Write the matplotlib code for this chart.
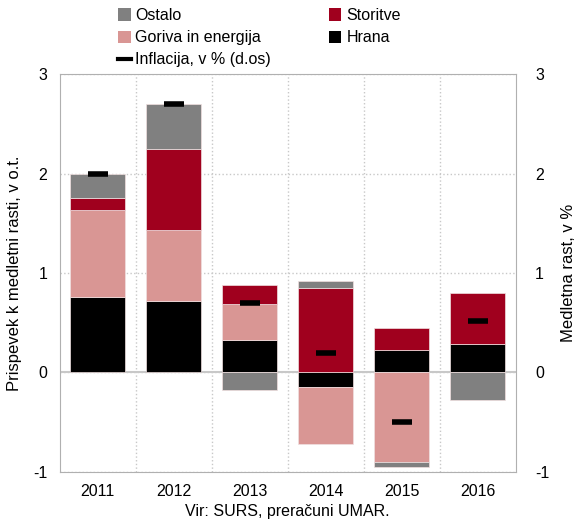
import numpy as np
import matplotlib
matplotlib.use("Agg")
import matplotlib.pyplot as plt
from matplotlib.lines import Line2D
from matplotlib.patches import Patch

plt.rcParams['font.family'] = ['Liberation Sans', 'DejaVu Sans']
plt.rcParams['axes.unicode_minus'] = False

years = ['2011', '2012', '2013', '2014', '2015', '2016']
hrana = [0.76, 0.72, 0.33, -0.15, 0.23, 0.29]
goriva = [0.87, 0.71, 0.36, -0.57, -0.90, 0.0]
storitve = [0.12, 0.82, 0.19, 0.85, 0.22, 0.51]
ostalo = [0.25, 0.45, -0.18, 0.07, -0.05, -0.28]
inflacija = [2.0, 2.7, 0.7, 0.2, -0.5, 0.52]

series = [
    ('Hrana', hrana, '#000000'),
    ('Goriva in energija', goriva, '#D99694'),
    ('Storitve', storitve, '#A0001E'),
    ('Ostalo', ostalo, '#808080'),
]

fig = plt.figure(figsize=(5.75, 5.22), dpi=100)
ax = fig.add_axes([0.104, 0.096, 0.793, 0.762])
x = np.arange(len(years))
pos = np.zeros(len(years))
neg = np.zeros(len(years))
for name, vals, col in series:
    v = np.array(vals)
    bottom = np.where(v >= 0, pos, neg)
    ax.bar(x, v, bottom=bottom, width=0.72, color=col, edgecolor='#f0e0e0',
           linewidth=0.5, zorder=3)
    pos = np.where(v >= 0, pos + v, pos)
    neg = np.where(v < 0, neg + v, neg)

ax.set_xlim(-0.5, len(years) - 0.5)
ax.set_ylim(-1, 3)
ax.set_yticks([-1, 0, 1, 2, 3])
ax.set_xticks(x)
ax.set_xticklabels(years)
ax.set_xticks(np.arange(0.5, len(years) - 0.5, 1), minor=True)
ax.grid(axis='y', which='major', linestyle=':', color='#c8c8c8', linewidth=1, zorder=0)
ax.grid(axis='x', which='minor', linestyle=':', color='#c8c8c8', linewidth=1, zorder=0)
ax.axhline(0, color='#c8c8c8', linewidth=1.5, zorder=2)
ax.tick_params(axis='both', which='both', length=0, labelsize=11.5, pad=9)
for s in ax.spines.values():
    s.set_color('#b0b0b0')
ax.set_ylabel('Prispevek k medletni rasti, v o.t.', fontsize=12, labelpad=8)
ax.set_xlabel('Vir: SURS, preračuni UMAR.', fontsize=11.5, labelpad=3)

ax2 = ax.twinx()
ax2.set_ylim(-1, 3)
ax2.set_yticks([-1, 0, 1, 2, 3])
ax2.tick_params(axis='y', length=0, labelsize=11.5, pad=14)
for s in ax2.spines.values():
    s.set_visible(False)
ax2.plot(x, inflacija, linestyle='none', marker='_', markersize=14,
         markeredgewidth=4, color='black', zorder=5)
ax2.set_ylabel('Medletna rast, v %', fontsize=12, labelpad=8, rotation=90)

handles = [
    Patch(facecolor='#808080', label='Ostalo'),
    Patch(facecolor='#D99694', label='Goriva in energija'),
    Line2D([], [], color='black', linewidth=3, label='Inflacija, v % (d.os)'),
    Patch(facecolor='#A0001E', label='Storitve'),
    Patch(facecolor='#000000', label='Hrana'),
]
fig.legend(handles=handles, ncol=2, loc='upper left', bbox_to_anchor=(0.18, 1.012),
           frameon=False, fontsize=11.5, handlelength=0.8, handleheight=0.8,
           handletextpad=0.3, columnspacing=3.6, labelspacing=0.45)

fig.savefig('out.png', dpi=100)
